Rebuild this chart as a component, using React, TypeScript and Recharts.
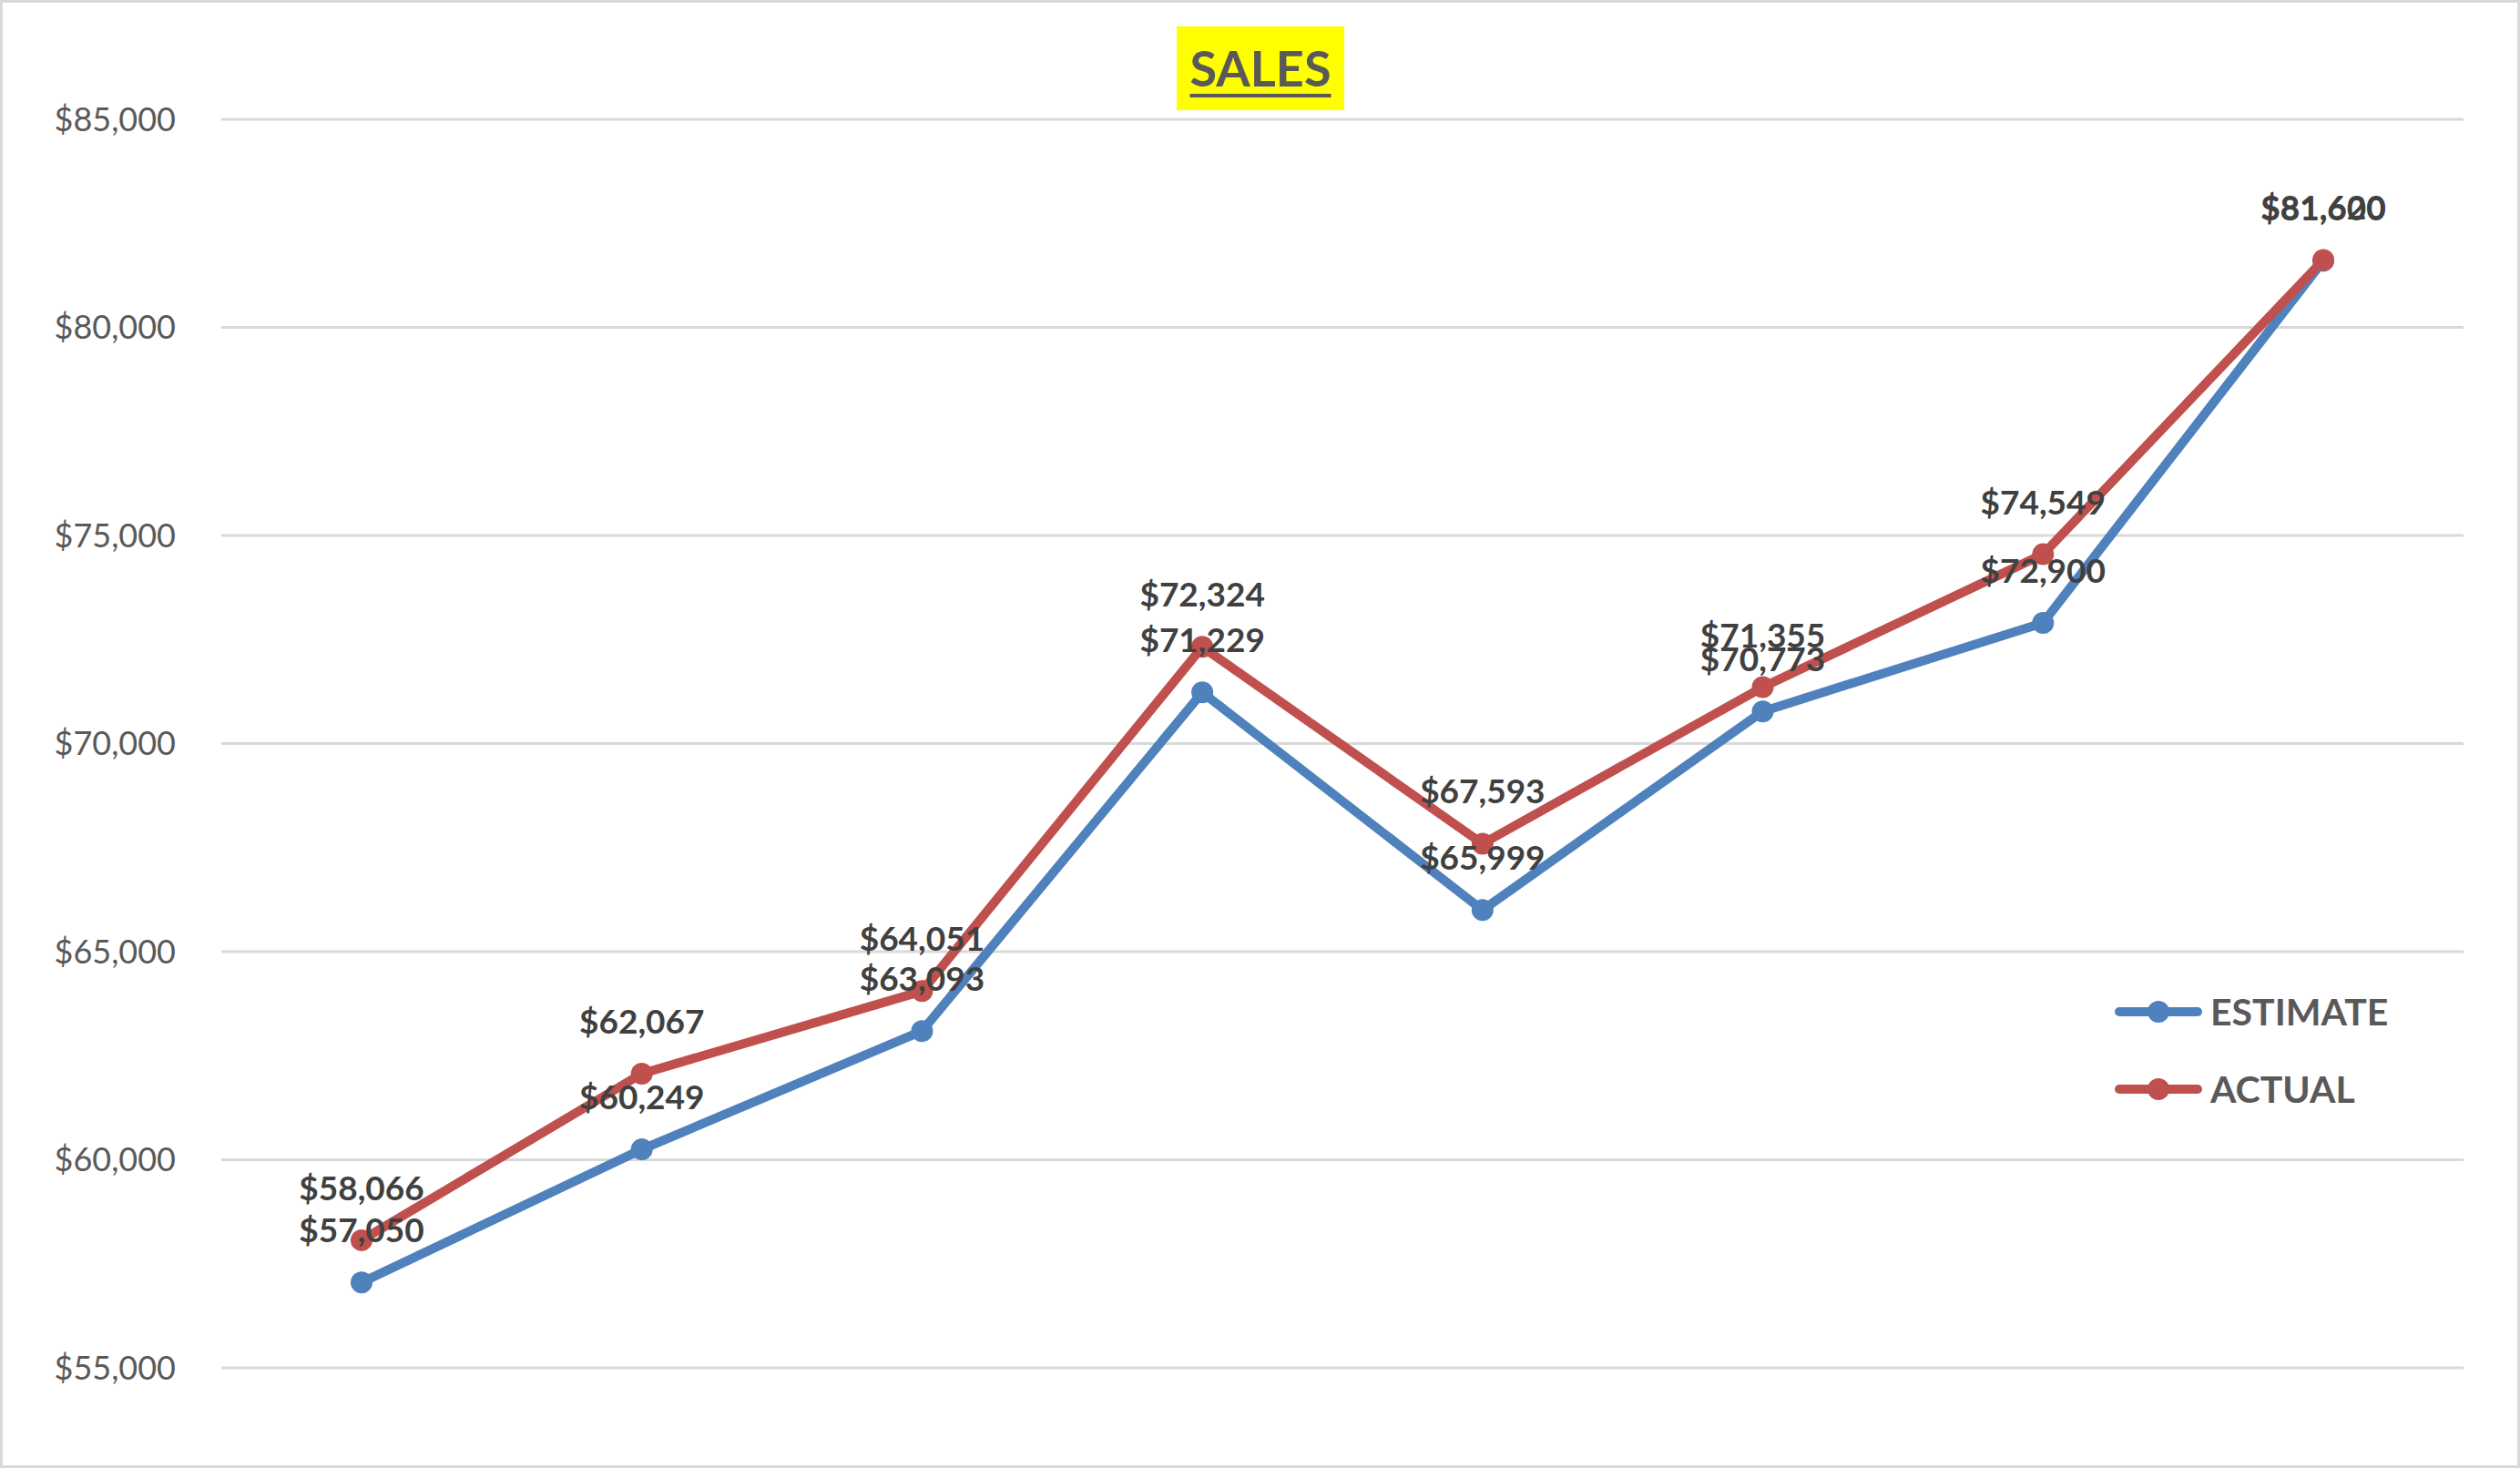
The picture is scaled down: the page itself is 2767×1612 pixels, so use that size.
import { LineChart, Line, XAxis, YAxis, CartesianGrid, Legend, LabelList } from 'recharts';

const periods = ['1', '2', '3', '4', '5', '6', '7', '8'];
const estimate = [57050, 60249, 63093, 71229, 65999, 70773, 72900, 81600];
const actual = [58066, 62067, 64051, 72324, 67593, 71355, 74549, 81620];
const yTicks = [55000, 60000, 65000, 70000, 75000, 80000, 85000];
const legendOrder = ['ESTIMATE', 'ACTUAL'];

const BLUE = '#4F81BD';
const RED = '#C0504D';
const FONT = 'Lato, "Open Sans", sans-serif';

const data = periods.map((p, i) => ({ period: p, estimate: estimate[i], actual: actual[i] }));

const money = (v: any) => '$' + Number(v).toLocaleString('en-US');

function renderLegend(props: any) {
  const items = (props.payload || [])
    .filter((e: any) => e.type !== 'none')
    .sort((a: any, b: any) => legendOrder.indexOf(a.value) - legendOrder.indexOf(b.value));
  return (
    <div style={{ fontFamily: FONT }}>
      {items.map((entry: any) => (
        <div key={entry.value} style={{ display: 'flex', alignItems: 'center', height: 85 }}>
          <svg width={96} height={30}>
            <line x1={5} y1={15} x2={91} y2={15} stroke={entry.color} strokeWidth={10} strokeLinecap="round" />
            <circle cx={48} cy={15} r={12} fill={entry.color} />
          </svg>
          <span style={{ marginLeft: 9, fontSize: 41, fontWeight: 700, color: '#595959' }}>{entry.value}</span>
        </div>
      ))}
    </div>
  );
}

export default function App() {
  const labelProps = { fill: '#404040', fontSize: 37, fontWeight: 700, fontFamily: FONT };

  return (
    <div style={{ position: 'absolute', left: 0, top: 0, width: 2767, height: 1612, background: '#fff', fontFamily: FONT }}>
      <LineChart width={2767} height={1612} data={data} margin={{ top: 131, right: 62, bottom: 110, left: 0 }}>
        <CartesianGrid vertical={false} stroke="#d9d9d9" strokeWidth={3} />
        <XAxis dataKey="period" hide padding={{ left: 154, right: 154 }} />
        <YAxis
          width={243}
          domain={[55000, 85000]}
          ticks={yTicks}
          tickFormatter={money}
          axisLine={false}
          tickLine={false}
          tickSize={0}
          tickMargin={50}
          tick={{ fill: '#595959', fontSize: 36, fontFamily: FONT }}
        />
        <Line
          type="linear"
          dataKey="estimate"
          name="ESTIMATE"
          stroke={BLUE}
          strokeWidth={10}
          strokeLinejoin="round"
          dot={{ r: 12, fill: BLUE, stroke: BLUE, strokeWidth: 0 }}
          activeDot={false}
          isAnimationActive={false}
        />
        <Line
          type="linear"
          dataKey="actual"
          name="ACTUAL"
          stroke={RED}
          strokeWidth={10}
          strokeLinejoin="round"
          dot={{ r: 12, fill: RED, stroke: RED, strokeWidth: 0 }}
          activeDot={false}
          isAnimationActive={false}
        />
        {/* label-only series so every data label sits above both lines */}
        <Line dataKey="estimate" stroke="none" dot={false} activeDot={false} legendType="none" isAnimationActive={false}>
          <LabelList dataKey="estimate" position="top" offset={44} formatter={money} {...labelProps} />
        </Line>
        <Line dataKey="actual" stroke="none" dot={false} activeDot={false} legendType="none" isAnimationActive={false}>
          <LabelList dataKey="actual" position="top" offset={44} formatter={money} {...labelProps} />
        </Line>
        <Legend
          layout="vertical"
          align="center"
          verticalAlign="middle"
          content={renderLegend}
          wrapperStyle={{ left: 2322, top: 1068, width: 340 }}
        />
      </LineChart>

      <div
        style={{
          position: 'absolute',
          left: 1292,
          top: 29,
          width: 184,
          height: 92,
          background: '#ffff00',
          textAlign: 'center',
          lineHeight: '92px',
          fontSize: 54,
          fontWeight: 700,
          color: '#595959',
          textDecoration: 'underline',
          textDecorationThickness: 4,
          textUnderlineOffset: 8,
        }}
      >
        SALES
      </div>

      <div
        style={{
          position: 'absolute',
          left: 0,
          top: 0,
          width: 2767,
          height: 1612,
          boxSizing: 'border-box',
          border: '3px solid #d9d9d9',
          pointerEvents: 'none',
        }}
      />
    </div>
  );
}
